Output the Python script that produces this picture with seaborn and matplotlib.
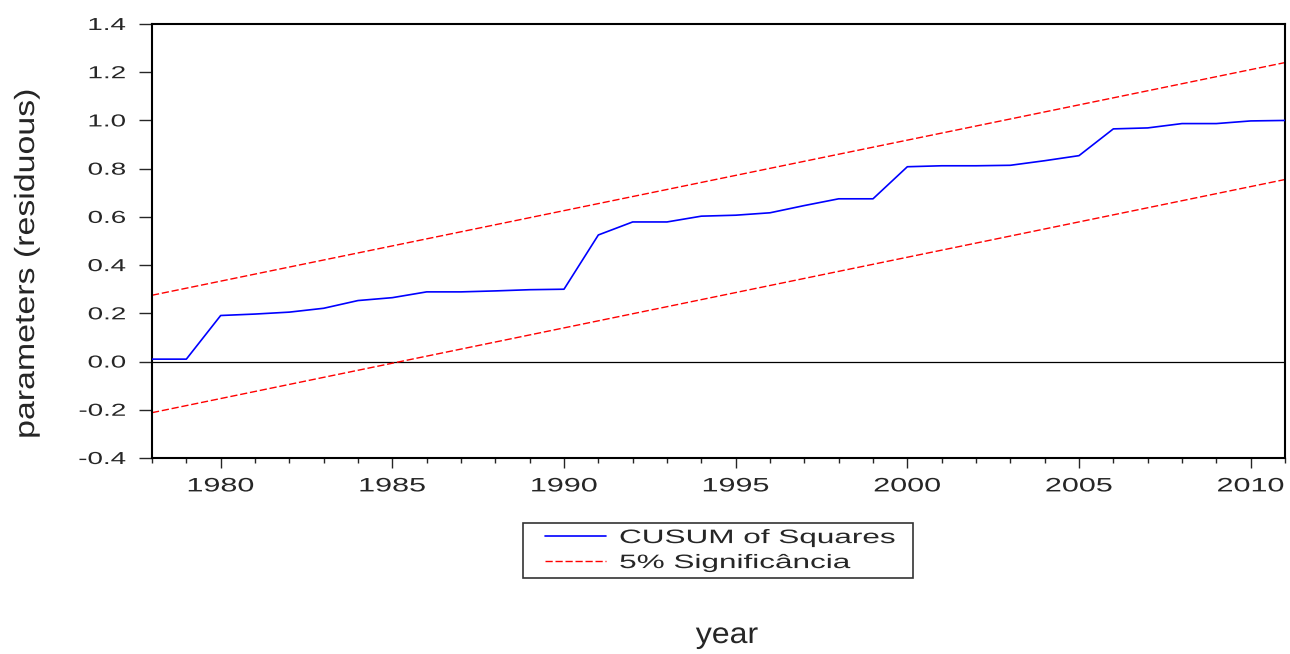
import numpy as np
import pandas as pd
import matplotlib
matplotlib.use("Agg")
import matplotlib.pyplot as plt
import seaborn as sns
from matplotlib.lines import Line2D
from matplotlib.legend_handler import HandlerLine2D
from matplotlib.patheffects import AbstractPathEffect
from matplotlib.transforms import Affine2D

# CUSUM of squares statistic, one value per year
years = list(range(1978, 2012))
cusum_sq = [0.010, 0.010, 0.191, 0.197, 0.205, 0.221, 0.253, 0.265, 0.289, 0.289,
            0.293, 0.298, 0.300, 0.525, 0.579, 0.579, 0.603, 0.607, 0.617, 0.647,
            0.675, 0.675, 0.808, 0.812, 0.812, 0.814, 0.833, 0.854, 0.965, 0.969,
            0.987, 0.987, 0.998, 1.000]

# 5% significance bands (straight lines between the end years)
band_years = [1978, 2011]
upper_band = [0.275, 1.240]
lower_band = [-0.212, 0.755]

y_ticks = [-0.4, -0.2, 0.0, 0.2, 0.4, 0.6, 0.8, 1.0, 1.2, 1.4]
x_major = [1980, 1985, 1990, 1995, 2000, 2005, 2010]

BLUE = "#0000ff"
RED = "#ff0000"
DASH = (5.2, 2.0)


class WideText(AbstractPathEffect):
    """Draw text glyphs widened along the baseline, keeping one edge fixed."""

    def __init__(self, sx, anchor="center"):
        super().__init__()
        self.sx = sx
        self.anchor = anchor

    def draw_path(self, renderer, gc, tpath, affine, rgbFace=None):
        ext = tpath.get_extents()
        ref = {"left": ext.x0, "right": ext.x1}.get(self.anchor, 0.5 * (ext.x0 + ext.x1))
        widen = Affine2D().translate(-ref, 0).scale(self.sx, 1.0).translate(ref, 0)
        renderer.draw_path(gc, tpath, widen + affine, rgbFace)


sns.set_style("ticks")
plt.rcParams["font.family"] = ["Liberation Sans", "DejaVu Sans"]

W, H = 1290, 654
fig = plt.figure(figsize=(W / 100, H / 100), dpi=100)
ax = fig.add_axes([152 / W, 1 - 458 / H, (1285 - 152) / W, (458 - 24) / H])

df = pd.DataFrame({"year": years, "value": cusum_sq})
bands = pd.DataFrame({"year": band_years * 2,
                      "value": upper_band + lower_band,
                      "band": ["upper"] * 2 + ["lower"] * 2})

ax.axhline(0.0, color="black", lw=0.9, zorder=1)
sns.lineplot(data=df, x="year", y="value", ax=ax, color=BLUE, lw=1.2,
             legend=False, zorder=3)
sns.lineplot(data=bands, x="year", y="value", units="band", estimator=None, ax=ax,
             color=RED, lw=1.0, legend=False, zorder=2)
for line in ax.get_lines()[2:]:
    line.set_dashes(DASH)

ax.set_xlim(1978, 2011)
ax.set_ylim(-0.4, 1.4)
ax.set_yticks(y_ticks)
ax.set_yticklabels([f"{v:.1f}" for v in y_ticks])
ax.set_xticks(x_major)
ax.set_xticklabels([str(v) for v in x_major])
ax.set_xticks(years, minor=True)
ax.tick_params(axis="y", which="major", length=9.4, width=1.0, labelsize=12.5,
               direction="out", pad=9.5)
ax.tick_params(axis="x", which="major", length=7.2, width=1.0, labelsize=14,
               direction="out", pad=7.5)
ax.tick_params(axis="x", which="minor", length=3.6, width=1.0, direction="out")
for s in ax.spines.values():
    s.set_color("black")
    s.set_linewidth(1.5)

for lbl in ax.get_yticklabels():
    lbl.set_path_effects([WideText(1.6, "right")])
for lbl in ax.get_xticklabels():
    lbl.set_path_effects([WideText(1.57, "center")])

ax.set_xlabel("")
ylab = ax.set_ylabel("parameters (residuous)", fontsize=20, va="center")
ax.yaxis.set_label_coords((27 - 152) / 1133, (458 - 264) / 434)
ylab.set_path_effects([WideText(1.22, "center")])

xlab = fig.text(727 / W, 11 / H, "year", ha="center", va="baseline", fontsize=21)
xlab.set_path_effects([WideText(1.1, "center")])

handles = [Line2D([], [], color=BLUE, lw=1.2),
           Line2D([], [], color=RED, lw=1.0, dashes=DASH)]
leg = ax.legend(handles, ["CUSUM of Squares", "5% Significância"],
                loc="center", mode="expand", borderaxespad=0.0,
                bbox_to_anchor=(523 / W, 1 - 578.5 / H, 390 / W, 55.5 / H),
                bbox_transform=fig.transFigure,
                frameon=True, fancybox=False, edgecolor="black", fontsize=14,
                handlelength=3.94, borderpad=0.31, labelspacing=0.38,
                handletextpad=0.72,
                handler_map={Line2D: HandlerLine2D(xpad=0.82)})
leg.get_frame().set_linewidth(1.2)
for t in leg.get_texts():
    t.set_path_effects([WideText(1.62, "left")])

fig.savefig("out.png", dpi=100)
